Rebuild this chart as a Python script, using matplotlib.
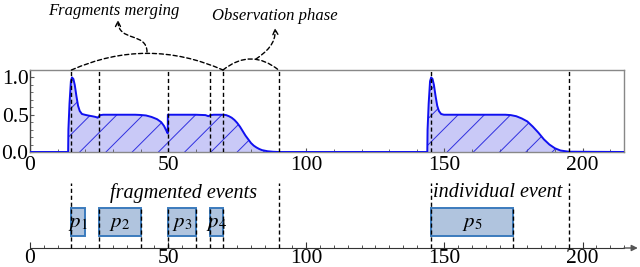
import matplotlib
matplotlib.use("Agg")
import matplotlib.pyplot as plt
import numpy as np
from matplotlib.patches import FancyArrowPatch, Rectangle
from matplotlib.path import Path
from matplotlib.ticker import MultipleLocator

plt.rcParams['font.family'] = ['Liberation Serif', 'DejaVu Serif']
plt.rcParams['mathtext.fontset'] = 'stix'

# ---- data ----
curve_x = [0, 13.8, 13.9, 14.3, 14.8, 15.2, 15.7, 16.2, 16.8, 17.4, 18.0, 18.8, 19.8, 21.0,
           22.5, 23.8, 24.5, 25.0, 25.5, 26.5, 30, 35, 38, 40, 42, 44, 46, 47.5, 48.5, 49.3,
           49.85, 49.9, 50.3, 55, 60, 63.5, 64.6, 65.3, 66.5, 70, 71, 72, 73, 74, 75, 76, 77,
           78, 79, 80, 81, 82, 83, 84, 86, 88, 90,
           143.8, 143.9, 144.3, 144.8, 145.2, 145.7, 146.2, 146.8, 147.4, 148.0, 148.8, 149.8,
           151, 155, 165, 172, 174, 176, 178, 180, 182, 184, 186, 188, 190, 192, 195, 215]
curve_y = [0, 0, 0.30, 0.65, 0.95, 1.0, 0.98, 0.90, 0.75, 0.62, 0.55, 0.51, 0.50, 0.49,
           0.48, 0.47, 0.46, 0.48, 0.495, 0.50, 0.50, 0.50, 0.50, 0.497, 0.49, 0.47, 0.44, 0.40, 0.35, 0.29,
           0.25, 0.50, 0.50, 0.50, 0.50, 0.495, 0.48, 0.495, 0.50, 0.50, 0.495, 0.48, 0.46, 0.43, 0.39, 0.34, 0.28,
           0.22, 0.17, 0.12, 0.085, 0.06, 0.04, 0.025, 0.01, 0.003, 0,
           0, 0.30, 0.65, 0.95, 1.0, 0.98, 0.90, 0.75, 0.62, 0.55, 0.51, 0.50,
           0.50, 0.50, 0.50, 0.50, 0.495, 0.48, 0.45, 0.41, 0.34, 0.26, 0.17, 0.10, 0.05, 0.02, 0.004, 0]

event_lines = [15, 25, 50, 65, 70, 90, 145, 195]
window_lines = [15, 90, 145, 195]
box_start = [15, 25, 50, 65, 145]
box_end = [20, 40, 60, 70, 175]
box_labels = ['$p_1$', '$p_2$', '$p_3$', '$p_4$', '$p_5$']
x_ticks = [0, 50, 100, 150, 200]
y_ticks = [0.0, 0.5, 1.0]
y_tick_labels = ['0.0', '0.5', '1.0']

W, H = 640, 267
fig = plt.figure(figsize=(6.4, 2.67), dpi=100)

def fpx(x, y):
    return (x / W, 1 - y / H)

# ---- top axes ----
ax = fig.add_axes([30 / W, 1 - 152 / H, (624 - 30) / W, (152 - 70) / H])
ax.set_xlim(0, 215)
ax.set_ylim(0, 1.1)
poly = ax.fill_between(curve_x, curve_y, 0, facecolor='#c9c9f7', linewidth=0, zorder=1)
ax.plot(curve_x, curve_y, color='#1010f0', lw=1.4, zorder=3)

# sparse diagonal hatch clipped to the filled area
sx = (624 - 30) / 215.0
sy = (152 - 70) / 1.1
clip_path = poly.get_paths()[0]
for c in np.arange(-20, 230, 9.5):
    xs = np.array([c, c + 1.2 * sy / sx])
    ys = (xs - c) * sx / sy
    ln, = ax.plot(xs, ys, color='#3030e0', lw=0.7, zorder=2)
    ln.set_clip_path(clip_path, ax.transData)

for xv in event_lines:
    ax.axvline(xv, color='black', lw=1.0, ls=(0, (3, 2)), zorder=4)

ax.set_xticks(x_ticks)
ax.set_yticks(y_ticks)
ax.set_yticklabels(y_tick_labels)
ax.xaxis.set_minor_locator(MultipleLocator(10))
ax.yaxis.set_minor_locator(MultipleLocator(0.1))
ax.tick_params(which='both', direction='in', labelsize=15.5, color='#555555')
ax.tick_params(which='major', length=3)
ax.tick_params(which='minor', length=2)
ax.tick_params(axis='y', pad=1)
ax.tick_params(axis='x', pad=3)
for s in ax.spines.values():
    s.set_color('#888888')
    s.set_linewidth(1.0)
ax.spines['left'].set_color('#444444')

# ---- bottom axes (number line) ----
bx = fig.add_axes([30 / W, 1 - 248 / H, (624 - 30) / W, (248 - 180) / H])
bx.set_xlim(0, 215)
bx.set_ylim(0, 1)
for k in ['top', 'right', 'left']:
    bx.spines[k].set_visible(False)
bx.spines['bottom'].set_color('#333333')
bx.set_yticks([])
bx.set_xticks(x_ticks)
bx.xaxis.set_minor_locator(MultipleLocator(5))
bx.tick_params(which='both', direction='in', labelsize=15.5, pad=1, color='#333333')
bx.tick_params(which='major', length=4)
bx.tick_params(which='minor', length=2.5)
bx.annotate('', xy=(221, 0), xytext=(214, 0), xycoords='data',
            arrowprops=dict(arrowstyle='-|>', color='#555555', lw=1.0, mutation_scale=9),
            annotation_clip=False)

y0, y1 = 0.176, 0.593
for a, b, lab in zip(box_start, box_end, box_labels):
    bx.add_patch(Rectangle((a, y0), b - a, y1 - y0, facecolor='#b0c4de',
                           edgecolor='#3b7bbd', lw=1.4, zorder=2))
    bx.text((a + b) / 2, (y0 + y1) / 2 - 0.02, lab, ha='center', va='center',
            fontsize=15, zorder=5)
for xv in window_lines:
    bx.plot([xv, xv], [0, 0.96], color='black', lw=1.0, ls=(0, (3, 2)), zorder=4, clip_on=False)
for a, b in zip(box_start, box_end):
    for xv in (a, b):
        if xv not in window_lines and not (xv == 20):
            bx.plot([xv, xv], [0, y1], color='black', lw=1.0, ls=(0, (3, 2)), zorder=4)

bx.text(55.5, 0.81, 'fragmented events', style='italic', fontsize=14.5, ha='center', va='center')
bx.text(169.4, 0.81, 'individual event', style='italic', fontsize=14.5, ha='center', va='center')

# ---- annotations above ----
fig.text(*fpx(114, 11), 'Fragments merging', style='italic', fontsize=12,
         ha='center', va='center')
fig.text(*fpx(275, 16), 'Observation phase', style='italic', fontsize=12,
         ha='center', va='center')

def arc(xa, xb, rad):
    p = FancyArrowPatch(fpx(xa, 70), fpx(xb, 70), transform=fig.transFigure,
                        connectionstyle=f'arc3,rad={rad}', arrowstyle='-',
                        linestyle=(0, (3, 2)), lw=1.0, color='black',
                        shrinkA=0, shrinkB=0)
    fig.add_artist(p)

arc(71.4, 223, -0.22)
arc(223, 278.6, -0.4)

def curvy(pts):
    verts = [fpx(*p) for p in pts]
    path = Path(verts, [Path.MOVETO, Path.CURVE4, Path.CURVE4, Path.CURVE4])
    p = FancyArrowPatch(path=path, transform=fig.transFigure, arrowstyle='->',
                        mutation_scale=9, linestyle=(0, (3, 2)), lw=1.0, color='black')
    fig.add_artist(p)

curvy([(147, 52), (147, 32), (118, 42), (118, 20)])
curvy([(256, 59), (266, 52), (276, 44), (275, 28)])

fig.savefig('out.png', dpi=100)
